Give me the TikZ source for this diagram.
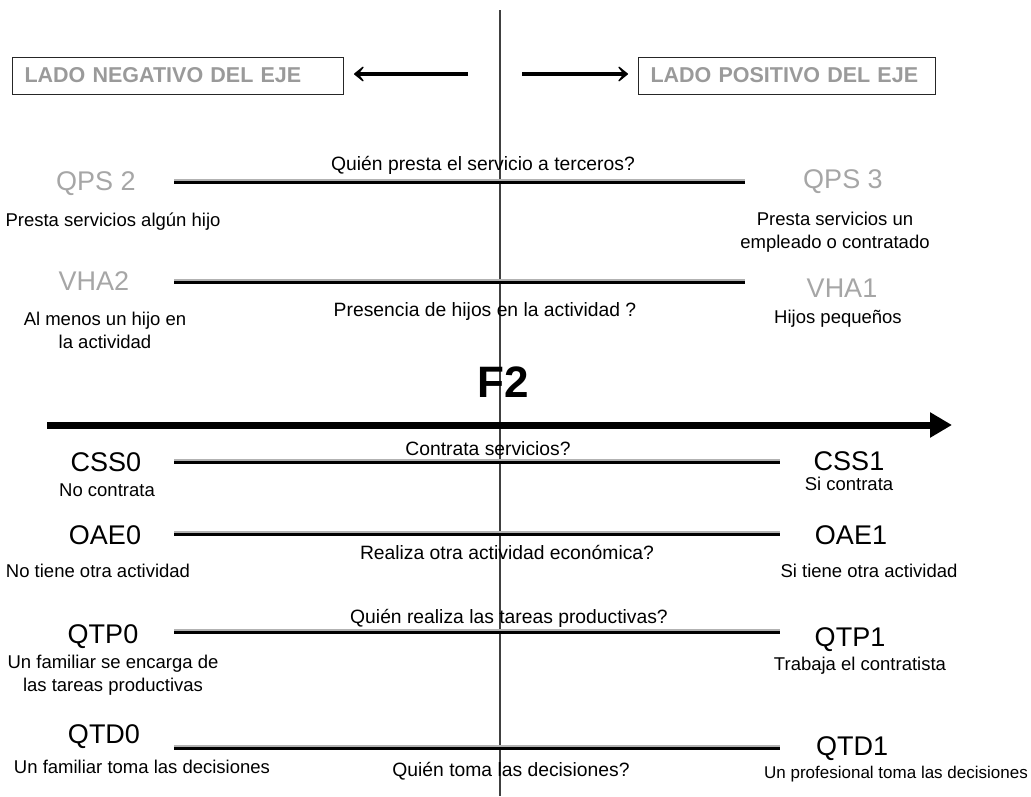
\documentclass[tikz,border=0pt]{standalone}
\usepackage{fontspec}
\setmainfont{Liberation Sans}
\usetikzlibrary{arrows.meta}
\definecolor{lgray}{HTML}{A6A6A6}
\definecolor{bgray}{HTML}{9A9A9A}
\definecolor{axgray}{HTML}{404040}
\begin{document}
\begin{tikzpicture}[x=1pt,y=-1pt,
  lab/.style={anchor=base,font=\fontsize{27}{30}\selectfont,inner sep=0pt},
  glab/.style={lab,text=lgray},
  desc/.style={anchor=base,font=\fontsize{18.5}{23}\selectfont,inner sep=0pt},
  mdesc/.style={anchor=base,font=\fontsize{18.5}{23}\selectfont,inner sep=0pt,align=center},
  ques/.style={anchor=base,font=\fontsize{19.3}{23}\selectfont,inner sep=0pt},
  sidebox/.style={draw=black!85,line width=1pt,text width=#1,minimum height=37pt,text=bgray,font=\bfseries\fontsize{21.5}{24}\selectfont,anchor=west,inner xsep=12pt,inner ysep=0pt,align=left},
  bar/.style={line width=3pt,black},
  shadow/.style={line width=3pt,black!30},
  sidearrow/.style={line width=3.5pt,-{Stealth[length=13pt,width=21pt,inset=8pt,round]}}
]
\useasboundingbox (0,0) rectangle (1031,796);
% central axis
\coordinate (vtop) at (500,10);
\coordinate (vbot) at (500,796);
\draw[axgray,line width=1.2pt] (vtop) -- (vbot);

% top boxes
\node[sidebox=307pt] (neg) at (12,75.5) {\mbox{LADO NEGATIVO DEL EJE}};
\node[sidebox=273pt] (pos) at (638,75.5) {\mbox{LADO POSITIVO DEL EJE}};
\coordinate (na) at (468,74);
\coordinate (pa) at (522,74);
\path ([xshift=10pt]neg.east) coordinate (ne);
\path ([xshift=-10pt]pos.west) coordinate (pw);
\draw[sidearrow] (na) -- (ne |- na);
\draw[sidearrow] (pa) -- (pw |- pa);

% QPS
\node[glab] (qps2) at (96,190) {QPS 2};
\node[glab] (qps3) at (843,188) {QPS 3};
\coordinate (l1a) at (174,182); \coordinate (l1b) at (745,182);
\draw[shadow] ([yshift=2pt]l1a) -- ([yshift=2pt]l1b);
\draw[bar] (l1a) -- (l1b);
\node[ques] (q1) at (483,170) {Quién presta el servicio a terceros?};
\node[desc] (d1a) at (113,226) {Presta servicios algún hijo};
\node[mdesc] (d1b) at (835,248) {Presta servicios un\\empleado o contratado};

% VHA
\node[glab] (vha2) at (94,290) {VHA2};
\node[glab] (vha1) at (842,297) {VHA1};
\coordinate (l2a) at (174,282); \coordinate (l2b) at (745,282);
\draw[shadow] ([yshift=2pt]l2a) -- ([yshift=2pt]l2b);
\draw[bar] (l2a) -- (l2b);
\node[ques] (q2) at (485,316) {Presencia de hijos en la actividad ?};
\node[mdesc] (d2a) at (105,348) {Al menos un hijo en\\la actividad};
\node[desc] (d2b) at (838,323) {Hijos pequeños};

% F2 axis
\node[anchor=base,inner sep=0pt,font=\bfseries\fontsize{44}{48}\selectfont] (f2) at (503,397) {F2};
\coordinate (ax1) at (47,425); \coordinate (ax2) at (952,425);
\draw[line width=7pt,-{Triangle[length=22pt,width=24pt]}] (ax1) -- (ax2);

% CSS
\node[lab] (css0) at (106,471) {CSS0};
\node[lab] (css1) at (849,470) {CSS1};
\coordinate (l3a) at (174,462); \coordinate (l3b) at (780,462);
\draw[shadow] ([yshift=2pt]l3a) -- ([yshift=2pt]l3b);
\draw[bar] (l3a) -- (l3b);
\node[ques] (q3) at (488,455) {Contrata servicios?};
\node[desc] (d3a) at (107,496) {No contrata};
\node[desc] (d3b) at (849,490) {Si contrata};

% OAE
\node[lab] (oae0) at (105,544) {OAE0};
\node[lab] (oae1) at (851,544) {OAE1};
\coordinate (l4a) at (174,534); \coordinate (l4b) at (780,534);
\draw[shadow] ([yshift=2pt]l4a) -- ([yshift=2pt]l4b);
\draw[bar] (l4a) -- (l4b);
\node[ques] (q4) at (507,559) {Realiza otra actividad económica?};
\node[desc] (d4a) at (98,577) {No tiene otra actividad};
\node[desc] (d4b) at (869,577) {Si tiene otra actividad};

% QTP
\node[lab] (qtp0) at (103,643) {QTP0};
\node[lab] (qtp1) at (850,646) {QTP1};
\coordinate (l5a) at (174,632); \coordinate (l5b) at (780,632);
\draw[shadow] ([yshift=2pt]l5a) -- ([yshift=2pt]l5b);
\draw[bar] (l5a) -- (l5b);
\node[ques] (q5) at (509,623) {Quién realiza las tareas productivas?};
\node[mdesc] (d5a) at (113,691) {Un familiar se encarga de\\las tareas productivas};
\node[desc] (d5b) at (860,670) {Trabaja el contratista};

% QTD
\node[lab] (qtd0) at (104,743) {QTD0};
\node[lab] (qtd1) at (852,755) {QTD1};
\coordinate (l6a) at (174,748); \coordinate (l6b) at (780,748);
\draw[shadow] ([yshift=2pt]l6a) -- ([yshift=2pt]l6b);
\draw[bar] (l6a) -- (l6b);
\node[ques] (q6) at (511,776) {Quién toma las decisiones?};
\node[desc] (d6a) at (142,773) {Un familiar toma las decisiones};
\node[desc,font=\fontsize{17}{21}\selectfont] (d6b) at (896,778) {Un profesional toma las decisiones};
\end{tikzpicture}
\end{document}
